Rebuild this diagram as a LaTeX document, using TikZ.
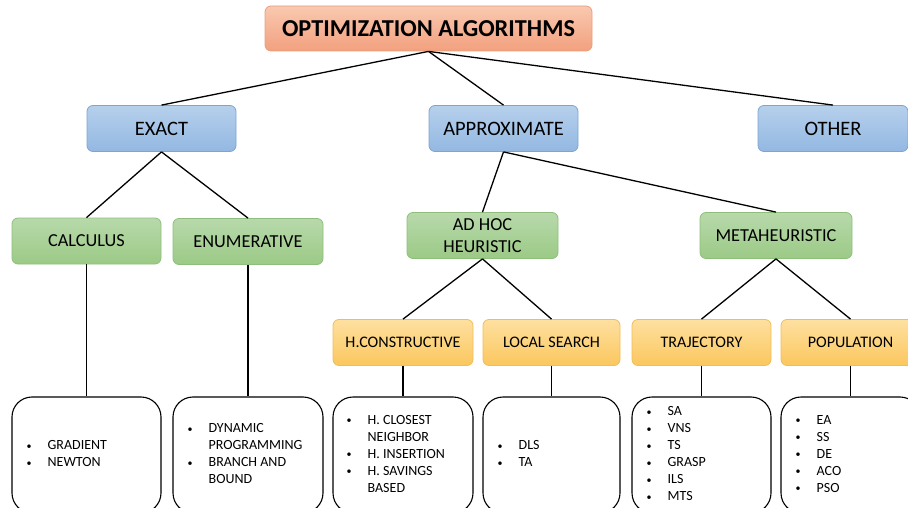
\documentclass[tikz,border=0pt]{standalone}
\usepackage{fontspec}
\setmainfont{Carlito}
\usetikzlibrary{calc}
\definecolor{blueT}{HTML}{B6D0EC}
\definecolor{blueB}{HTML}{93B8E2}
\definecolor{blueD}{HTML}{7FA4CF}
\definecolor{greenT}{HTML}{B8D9AB}
\definecolor{greenB}{HTML}{9BCA86}
\definecolor{greenD}{HTML}{8FBE7C}
\definecolor{yelT}{HTML}{FEE0A0}
\definecolor{yelB}{HTML}{FBC75E}
\definecolor{yelD}{HTML}{F2BD58}
\definecolor{orT}{HTML}{F9C9B0}
\definecolor{orB}{HTML}{F2A07E}
\definecolor{orD}{HTML}{EA9E7E}
\tikzset{
  lbl/.style={rounded corners=6pt, minimum height=46pt, inner sep=0pt, align=center,
    line width=0.8pt, font=\fontsize{18.3}{22}\selectfont},
  bluebox/.style={lbl, minimum width=149pt, draw=blueD, top color=blueT, bottom color=blueB,
    font=\fontsize{20.5}{24}\selectfont},
  greenbox/.style={lbl, minimum width=150pt, draw=greenD, top color=greenT, bottom color=greenB},
  yelbox/.style={lbl, minimum width=139pt, draw=yelD, top color=yelT, bottom color=yelB,
    font=\fontsize{16.1}{20}\selectfont},
  titlebox/.style={lbl, minimum width=327pt, minimum height=45pt, draw=orD, top color=orT, bottom color=orB,
    font=\fontsize{24.3}{28}\selectfont\bfseries},
  listbox/.style={draw=black, line width=1.1pt, rounded corners=20pt, fill=white, minimum height=116pt, inner sep=0pt},
  listtxt/.style={anchor=west, inner sep=0pt, align=left, font=\fontsize{14}{17}\selectfont},
  conn/.style={draw=black, line width=1.3pt},
}
\newcommand{\bl}{\makebox[21pt][l]{\raisebox{0.5pt}{\fontsize{10}{10}\selectfont •}}}
\begin{document}
\begin{tikzpicture}[x=1pt,y=-1pt]
\useasboundingbox (0,0) rectangle (908,508);
\clip (0,0) rectangle (908,508);
% level 0
\node[titlebox] (top) at (428.5,28.5) {OPTIMIZATION ALGORITHMS};
% level 1
\node[bluebox] (exact) at (161.5,128.5) {EXACT};
\node[bluebox] (approx) at (503.5,128.5) {APPROXIMATE};
\node[bluebox, minimum width=150pt] (other) at (833,128.5) {OTHER};
% level 2
\node[greenbox, minimum width=149pt] (calc) at (86.5,241) {CALCULUS};
\node[greenbox] (enum) at (248,241.5) {ENUMERATIVE};
\node[greenbox, minimum width=151pt] (adhoc) at (482.5,235.5) {AD HOC\\HEURISTIC};
\node[greenbox, minimum width=152pt] (meta) at (776,235.5) {METAHEURISTIC};
% level 3
\node[yelbox, minimum width=140pt] (hcons) at (403,342.5) {H.CONSTRUCTIVE};
\node[yelbox, minimum width=137pt] (local) at (551.5,342.5) {LOCAL SEARCH};
\node[yelbox] (traj) at (701.5,342.5) {TRAJECTORY};
\node[yelbox] (pop) at (850.5,342.5) {POPULATION};
% list boxes
\node[listbox, minimum width=149pt] (b1) at (86.5,455) {};
\node[listbox, minimum width=150pt] (b2) at (248,455) {};
\node[listbox, minimum width=140pt] (b3) at (403,455) {};
\node[listbox, minimum width=137pt] (b4) at (551.5,455) {};
\node[listbox, minimum width=139pt] (b5) at (701.5,455) {};
\node[listbox, minimum width=139pt] (b6) at (850.5,455) {};
\node[listtxt] (t1) at ([xshift=15pt]b1.west) {\begin{tabular}{@{}l@{}l@{}}\bl&GRADIENT\\\bl&NEWTON\end{tabular}};
\node[listtxt] (t2) at ([xshift=15pt]b2.west) {\begin{tabular}{@{}l@{}l@{}}\bl&DYNAMIC\\&PROGRAMMING\\\bl&BRANCH AND\\&BOUND\end{tabular}};
\node[listtxt] (t3) at ([xshift=14pt]b3.west) {\begin{tabular}{@{}l@{}l@{}}\bl&H. CLOSEST\\&NEIGHBOR\\\bl&H. INSERTION\\\bl&H. SAVINGS\\&BASED\end{tabular}};
\node[listtxt] (t4) at ([xshift=15pt]b4.west) {\begin{tabular}{@{}l@{}l@{}}\bl&DLS\\\bl&TA\end{tabular}};
\node[listtxt] (t5) at ([xshift=15pt]b5.west) {\begin{tabular}{@{}l@{}l@{}}\bl&SA\\\bl&VNS\\\bl&TS\\\bl&GRASP\\\bl&ILS\\\bl&MTS\end{tabular}};
\node[listtxt] (t6) at ([xshift=15pt]b6.west) {\begin{tabular}{@{}l@{}l@{}}\bl&EA\\\bl&SS\\\bl&DE\\\bl&ACO\\\bl&PSO\end{tabular}};
% connectors
\draw[conn] (top.south) -- (exact.north);
\draw[conn] (top.south) -- (approx.north);
\draw[conn] (top.south) -- (other.north);
\draw[conn] (exact.south) -- (calc.north);
\draw[conn] (exact.south) -- (enum.north);
\draw[conn] (approx.south) -- (adhoc.north);
\draw[conn] (approx.south) -- (meta.north);
\draw[conn] (adhoc.south) -- (hcons.north);
\draw[conn] (adhoc.south) -- (local.north);
\draw[conn] (meta.south) -- (traj.north);
\draw[conn] (meta.south) -- (pop.north);
\draw[conn] (calc.south) -- (b1.north);
\draw[conn] (enum.south) -- (b2.north);
\draw[conn] (hcons.south) -- (b3.north);
\draw[conn] (local.south) -- (b4.north);
\draw[conn] (traj.south) -- (b5.north);
\draw[conn] (pop.south) -- (b6.north);
\end{tikzpicture}
\end{document}
